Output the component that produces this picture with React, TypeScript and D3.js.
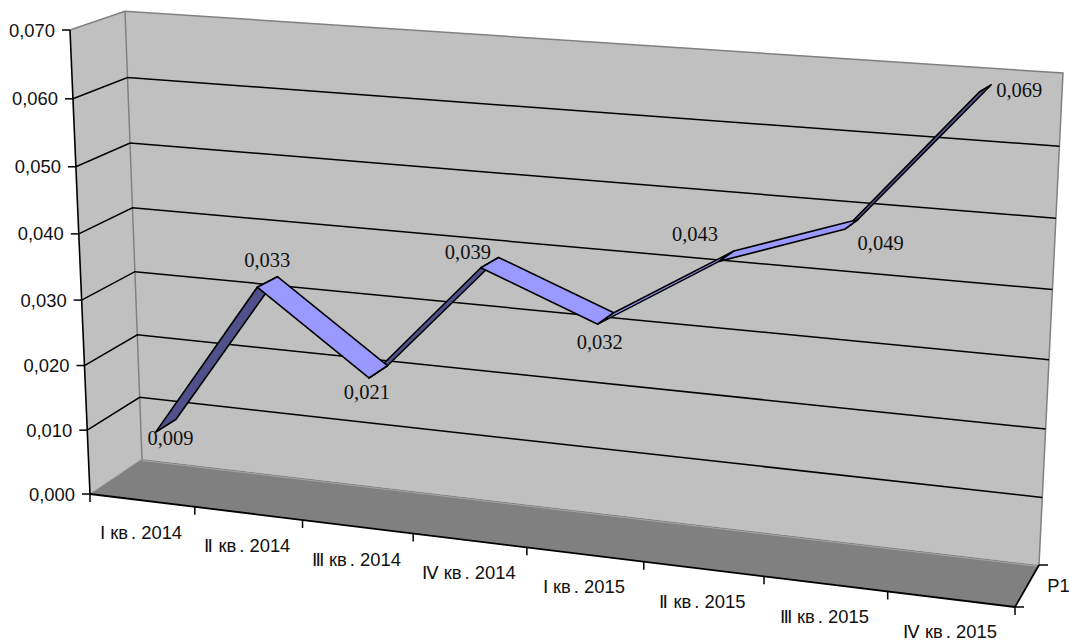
import React from "react";
import * as d3 from "d3";

const categories = ["Ⅰ кв. 2014", "Ⅱ кв. 2014", "Ⅲ кв. 2014", "Ⅳ кв. 2014", "Ⅰ кв. 2015", "Ⅱ кв. 2015", "Ⅲ кв. 2015", "Ⅳ кв. 2015"];
const values = [0.009, 0.033, 0.021, 0.039, 0.0324, 0.043, 0.049, 0.069];
const valueLabels = ["0,009", "0,033", "0,021", "0,039", "0,032", "0,043", "0,049", "0,069"];
const yTicks = [0, 0.01, 0.02, 0.03, 0.04, 0.05, 0.06, 0.07];
const yTickLabels = ["0,000", "0,010", "0,020", "0,030", "0,040", "0,050", "0,060", "0,070"];
const seriesName = "P1";

// Layout of the 3D box, in pixels
type Pt = [number, number];
const FL: Pt = [90, 494];
const FR: Pt = [1015, 607];
const BR: Pt = [1039, 565];
const BL: Pt = [142, 459];
const FLtop: Pt = [70, 30];
const vanishing: Pt = [537, 10859];
const ribbonFront = 0.3;
const ribbonBack = 0.7;
const riseAlongU = 0.0168;
const riseAlongW = -0.0044;
const categoryBow = 0.025;
const ribbonBackShear: Pt = [1.5, 2];
const labelOffsets: Pt[] = [[15, 13], [10, -20], [-2, 21], [-13, -9], [2, 25], [-24, -20], [36, 21], [40, 5]];

// Floor homography (unit square -> floor quad)
const sx = FL[0] - FR[0] + BR[0] - BL[0];
const sy = FL[1] - FR[1] + BR[1] - BL[1];
const dx1 = FR[0] - BR[0], dx2 = BL[0] - BR[0], dy1 = FR[1] - BR[1], dy2 = BL[1] - BR[1];
const det = dx1 * dy2 - dx2 * dy1;
const g = (sx * dy2 - dx2 * sy) / det;
const h = (dx1 * sy - sx * dy1) / det;
const a = FR[0] - FL[0] + g * FR[0], b = BL[0] - FL[0] + h * BL[0];
const d = FR[1] - FL[1] + g * FR[1], e = BL[1] - FL[1] + h * BL[1];
const vs = (FL[1] - FLtop[1]) / (FLtop[1] - vanishing[1]);

const uScale = d3.scaleLinear().domain([0, categories.length]).range([0, 1]);
const vScale = d3.scaleLinear().domain([0, 0.07]).range([0, 1]);

function project(i: number, value: number, w: number): Pt {
  const u0 = uScale(i);
  const u = u0 - categoryBow * u0 * (1 - u0);
  const v = vScale(value) * vs * (1 + riseAlongU * u + riseAlongW * w);
  const W = 1 + g * u + h * w + v;
  return [
    (FL[0] + a * u + b * w + v * vanishing[0]) / W,
    (FL[1] + d * u + e * w + v * vanishing[1]) / W,
  ];
}

function ribbonBackPoint(i: number, value: number): Pt {
  const p = project(i, value, ribbonBack);
  const t = vScale(value);
  return [p[0] + ribbonBackShear[0] * t, p[1] + ribbonBackShear[1] * t];
}

const line = d3.line<Pt>();
const closed = (pts: Pt[]) => (line(pts) as string) + "Z";

const n = categories.length;
const top = d3.max(yTicks) as number;
const sans = "'Liberation Sans', Arial, sans-serif";
const serif = "'Liberation Serif', 'Times New Roman', serif";
const WALL = "#C0C0C0", EDGE = "#808080", FLOOR = "#808080";
const INK = "#111";
const SANS_SIZE = 18.4;

export default function App() {
  const corner = (i: number, v: number, w: number) => project(i, v, w);
  const segments = d3.pairs(d3.range(n)).map(([i, j]) => {
    const f0 = project(i + 0.5, values[i], ribbonFront);
    const f1 = project(j + 0.5, values[j], ribbonFront);
    const b1 = ribbonBackPoint(j + 0.5, values[j]);
    const b0 = ribbonBackPoint(i + 0.5, values[i]);
    const cross = (f1[0] - f0[0]) * (b0[1] - f0[1]) - (f1[1] - f0[1]) * (b0[0] - f0[0]);
    return { pts: [f0, f1, b1, b0] as Pt[], light: cross < 0 };
  });
  return (
    <svg width={1070} height={644} style={{ position: "absolute", left: 0, top: 0, background: "#fff" }}>
      {/* walls */}
      <path d={closed([corner(0, 0, 0), corner(0, top, 0), corner(0, top, 1), corner(0, 0, 1)])} fill={WALL} />
      <path d={closed([corner(0, 0, 1), corner(0, top, 1), corner(n, top, 1), corner(n, 0, 1)])} fill={WALL} />
      <path d={line([corner(0, top, 0), corner(0, top, 1), corner(n, top, 1), corner(n, 0, 1)]) as string} fill="none" stroke={EDGE} strokeWidth={1.5} />
      <path d={line([corner(0, top, 1), corner(0, 0, 1)]) as string} fill="none" stroke={EDGE} strokeWidth={1.5} />
      {/* gridlines */}
      {yTicks.filter((t) => t > 0 && t < top).map((t) => (
        <path key={t} d={line([corner(0, t, 0), corner(0, t, 1), corner(n, t, 1)]) as string} fill="none" stroke="#000" strokeWidth={1.5} />
      ))}
      {/* floor */}
      <path d={closed([corner(0, 0, 0), corner(n, 0, 0), corner(n, 0, 1), corner(0, 0, 1)])} fill={FLOOR} />
      <path d={line([corner(0, 0, 0), corner(0, 0, 1)]) as string} fill="none" stroke="#9a9a9a" strokeWidth={1} />
      <path d={line([corner(0, 0, 1), corner(n, 0, 1)]) as string} transform="translate(0,1.5)" fill="none" stroke="#a6a6a6" strokeWidth={1} />
      {/* axes */}
      <path d={line([corner(0, 0, 0), corner(0, top, 0)]) as string} fill="none" stroke="#000" strokeWidth={1.6} />
      <path d={line([corner(0, 0, 0), corner(n, 0, 0)]) as string} fill="none" stroke="#000" strokeWidth={1.8} />
      <path d={line([corner(n, 0, 0), corner(n, 0, 1)]) as string} fill="none" stroke="#000" strokeWidth={1.8} />
      {yTicks.map((t, i) => {
        const p = corner(0, t, 0);
        return (
          <g key={t}>
            <line x1={p[0] - 8} x2={p[0]} y1={p[1]} y2={p[1]} stroke="#000" strokeWidth={1.5} />
            <text x={p[0] - 15} y={p[1] + 6.5} textAnchor="end" fontFamily={sans} fontSize={SANS_SIZE} fill={INK}>{yTickLabels[i]}</text>
          </g>
        );
      })}
      {d3.range(n + 1).map((i) => {
        const p = corner(i, 0, 0);
        return <line key={i} x1={p[0]} x2={p[0]} y1={p[1]} y2={p[1] + 8} stroke="#000" strokeWidth={1.5} />;
      })}
      {[0, 1].map((w) => {
        const p = corner(n, 0, w);
        return <line key={w} x1={p[0]} x2={p[0] + 9} y1={p[1]} y2={p[1]} stroke="#000" strokeWidth={1.5} />;
      })}
      {categories.map((c, i) => {
        const p = corner(i + 0.5, 0, 0);
        const [head, tail] = c.split(".");
        return (
          <text key={i} x={p[0] - 1} y={p[1] + 39} textAnchor="middle" fontFamily={sans} fontSize={SANS_SIZE} fill={INK}>
            {head}<tspan dx={3}>.{tail}</tspan>
          </text>
        );
      })}
      {(() => {
        const p = corner(n, 0, 0.5);
        return <text x={p[0] + 20} y={p[1] + 6} fontFamily={sans} fontSize={SANS_SIZE} fill={INK}>{seriesName}</text>;
      })()}
      {/* ribbon */}
      {segments.filter((s) => !s.light).map((s, i) => (
        <path key={i} d={closed(s.pts)} fill="#50508A" stroke="#000" strokeWidth={1.6} strokeLinejoin="round" />
      ))}
      {segments.filter((s) => s.light).map((s, i) => (
        <path key={i} d={closed(s.pts)} fill="#9999FF" stroke="#000" strokeWidth={1.6} strokeLinejoin="round" />
      ))}
      {values.map((v, i) => {
        const p = project(i + 0.5, v, ribbonFront);
        return (
          <text key={i} x={p[0] + labelOffsets[i][0]} y={p[1] + labelOffsets[i][1]} textAnchor="middle" fontFamily={serif} fontSize={20.5} fill={INK}>
            {valueLabels[i]}
          </text>
        );
      })}
    </svg>
  );
}
